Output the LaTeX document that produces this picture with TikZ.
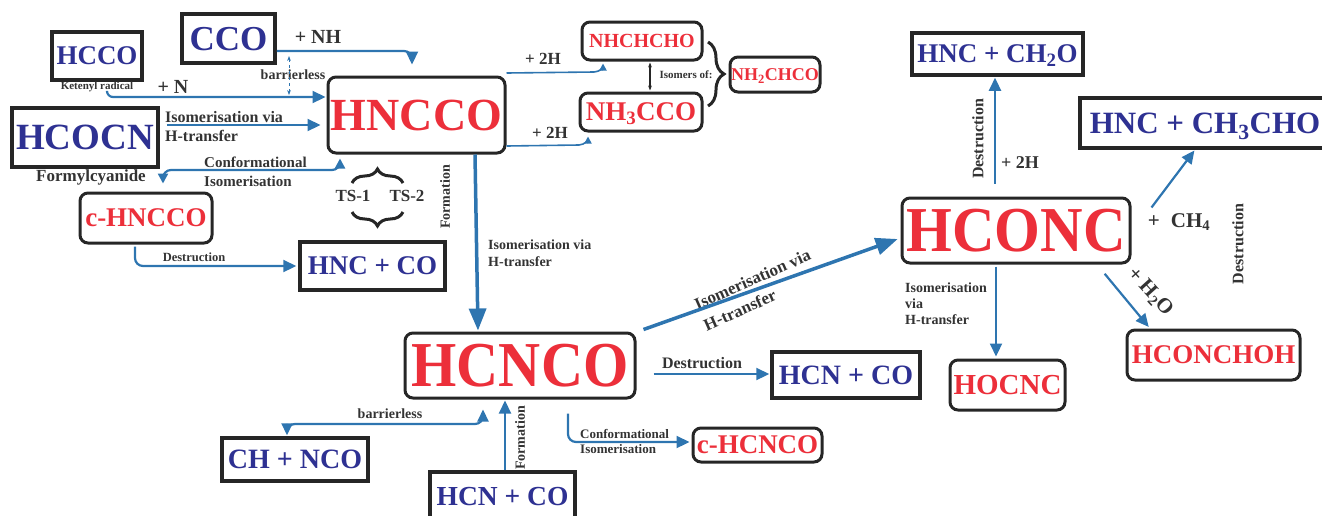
\documentclass[tikz,border=0pt]{standalone}
\usepackage{fontspec}
\setmainfont{Liberation Serif}
\usetikzlibrary{arrows.meta,decorations.pathreplacing}
\definecolor{molblue}{HTML}{2E3192}
\definecolor{molred}{HTML}{EC2F3A}
\definecolor{arrblue}{HTML}{2E75B0}
\definecolor{boxgray}{HTML}{262626}
\definecolor{lblgray}{HTML}{333333}
\newcommand\ctext[1]{\smash{\raisebox{-0.33em}{#1}}}
\begin{document}
\begin{tikzpicture}[x=1pt,y=-1pt,
  sz/.style={font=\bfseries\fontsize{#1}{#1}\selectfont},
  ml/.style 2 args={font=\bfseries\fontsize{#1}{#2}\selectfont},
  sbox/.style={draw=boxgray, line width=3.5pt, inner sep=0pt, text=molblue},
  rbox/.style={draw=boxgray, line width=3pt, rounded corners=8pt, inner sep=0pt, text=molred},
  lbl/.style={text=lblgray, inner sep=0pt},
  arr/.style={draw=arrblue, line width=2.2pt, -{Triangle[length=13pt,width=12pt]}},
  arrs/.style={draw=arrblue, line width=1.6pt, -{Triangle[length=7pt,width=7pt]}},
  bigarr/.style={draw=arrblue, line width=3.5pt, -{Triangle[length=22pt,width=17pt]}},
  brc/.style={draw=boxgray, line width=3pt, decorate},
]
\useasboundingbox (0,0) rectangle (1322,515);
\clip (0,0) rectangle (1322,515);

% ---- boxes ----
\node[sbox, minimum width=90, minimum height=48, sz=27] (HCCO) at (97,56) {\ctext{HCCO}};
\node[sbox, minimum width=93, minimum height=49, sz=35] (CCO) at (228.5,38.5) {\ctext{CCO}};
\node[rbox, minimum width=177, minimum height=76, sz=46] (HNCCO) at (416.5,115) {\ctext{HNCCO}};
\node[sbox, minimum width=146, minimum height=59, sz=37] (HCOCN) at (85,137.5) {\ctext{HCOCN}};
\node[rbox, minimum width=132, minimum height=50, sz=27] (cHNCCO) at (146,218) {\ctext{c-HNCCO}};
\node[sbox, minimum width=145, minimum height=48, sz=27] (HNCCOa) at (372.5,266) {\ctext{HNC + CO}};
\node[rbox, minimum width=120, minimum height=38, sz=20] (NHCHCHO) at (642,41) {\ctext{NHCHCHO}};
\node[rbox, minimum width=122, minimum height=38, sz=27] (NH3CCO) at (641,112) {\ctext{NH\textsubscript{3}CCO}};
\node[rbox, minimum width=90, minimum height=35, sz=18] (NH2CHCO) at (775,74.5) {\ctext{NH\textsubscript{2}CHCO}};
\node[rbox, minimum width=230, minimum height=65, sz=64] (HCNCO) at (520,365.5) {\ctext{\scalebox{0.91}[1]{HCNCO}}};
\node[rbox, minimum width=228, minimum height=65, sz=64] (HCONC) at (1016,230.5) {\ctext{\scalebox{0.92}[1]{HCONC}}};
\node[sbox, minimum width=148, minimum height=46, sz=28] (HCNCOr) at (846,375) {\ctext{HCN + CO}};
\node[rbox, minimum width=129, minimum height=34, sz=27] (cHCNCO) at (757.5,445) {\ctext{c-HCNCO}};
\node[sbox, minimum width=146, minimum height=43, sz=28] (CHNCO) at (295,459.5) {\ctext{CH + NCO}};
\node[sbox, minimum width=145, minimum height=48, sz=27.5] (HCNCOb) at (502.5,496) {\ctext{HCN + CO}};
\node[sbox, minimum width=171, minimum height=42, sz=27] (HNCCH2O) at (997.5,54) {\ctext{HNC + CH\textsubscript{2}O}};
\node[sbox, minimum width=250, minimum height=50, sz=31] (HNCCH3CHO) at (1205,123) {\ctext{HNC + CH\textsubscript{3}CHO}};
\node[rbox, minimum width=173, minimum height=50, sz=27] (HCONCHOH) at (1213.5,355) {\ctext{HCONCHOH}};
\node[rbox, minimum width=115, minimum height=50, sz=29] (HOCNC) at (1007.5,385) {\ctext{HOCNC}};

% ---- labels ----
\node[lbl, sz=11] (ket) at (97,87) {Ketenyl radical};
\node[lbl, sz=20] (plusN) at (173,87) {+ N};
\node[lbl, sz=14] (barr1) at (293,75) {barrierless};
\node[lbl, sz=20] (plusNH) at (318,37) {+ NH};
\node[lbl, ml={16}{19}, align=left, anchor=west] (iso1) at (165,127) {Isomerisation via\\H-transfer};
\node[lbl, sz=17] (formyl) at (91,177) {Formylcyanide};
\node[lbl, ml={15}{19}, align=left, anchor=west] (conf1) at (204,172) {Conformational\\Isomerisation};
\node[lbl, sz=17] (ts1) at (353,196) {TS-1};
\node[lbl, sz=17] (ts2) at (407,196) {TS-2};
\node[lbl, sz=14, rotate=90] (form1) at (445,197) {Formation};
\node[lbl, ml={14}{17}, align=left, anchor=west] (iso2) at (488,253) {Isomerisation via\\H-transfer};
\node[lbl, sz=12.5] (dest1) at (194,257) {Destruction};
\node[lbl, sz=17] (p2ha) at (543,59) {+ 2H};
\node[lbl, sz=17] (p2hb) at (550,133) {+ 2H};
\node[lbl, sz=11] (isomers) at (686,75) {Isomers of:};
\node[lbl, sz=16] (dest2) at (702,363) {Destruction};
\node[lbl, ml={13}{15}, align=left, anchor=west] (conf2) at (580,441) {Conformational\\Isomerisation};
\node[lbl, sz=14] (barr2) at (390,414) {barrierless};
\node[lbl, sz=14, rotate=90] (form2) at (520,438) {Formation};
\node[lbl, ml={17}{23}, align=left, rotate=24] (iso3) at (757,290) {Isomerisation via\\H-transfer};
\node[lbl, sz=16, rotate=90] (dest3) at (978,139) {Destruction};
\node[lbl, sz=18] (p2hc) at (1020,163) {+ 2H};
\node[lbl, sz=21] (pch4) at (1179,222) {+ \;CH\textsubscript{4}};
\node[lbl, sz=16, rotate=90] (dest4) at (1238,244) {Destruction};
\node[lbl, sz=21, rotate=-48] (ph2o) at (1150,292) {+ H\textsubscript{2}O};
\node[lbl, ml={14}{16}, align=left, anchor=west] (iso4) at (905,304) {Isomerisation\\via\\H-transfer};

% ---- connectors ----
\draw[arr, rounded corners=8pt, shorten >=11pt] (CCO.east |- 0,51) -- (412,51) -- (HNCCO.north -| 412,0);
\draw[arr, rounded corners=6pt, shorten >=1pt] (ket.south -| 107,0) -- (107,97) -- (HNCCO.west |- 0,97);
\draw[arr, shorten <=7pt, shorten >=6pt] (HCOCN.east |- 0,125) -- (HNCCO.west |- 0,125);
\draw[arr, {Triangle[length=10pt,width=10pt]}-{Triangle[length=10pt,width=10pt]}, rounded corners=8pt, shorten <=8pt, shorten >=4pt]
  (cHNCCO.north -| 163,0) -- (163,170) -- (340,170) -- (HNCCO.south -| 340,0);
\draw[arr, rounded corners=8pt, shorten <=2pt, shorten >=2pt] (cHNCCO.south -| 135,0) -- (135,266) -- (HNCCOa.west |- 0,266);
\draw[bigarr, shorten >=1pt] (HNCCO.south -| 475,0) -- (HCNCO.north -| 478,0);
\draw[arrs, shorten >=2pt] (HNCCO.east |- 0,73) -- (594,72) to[out=0,in=-90] (NHCHCHO.south -| 603,0);
\draw[arrs, shorten >=4pt] (HNCCO.east |- 0,146) -- (579,145) to[out=0,in=-90] (NH3CCO.south -| 588,0);
\draw[boxgray, line width=1.2pt, {Stealth[length=5pt]}-{Stealth[length=5pt]}, shorten <=1pt, shorten >=1pt]
  (NHCHCHO.south -| 650,0) -- (NH3CCO.north -| 650,0);
\draw[brc, decoration={brace, amplitude=16pt}] (708,42) -- (708,106);
\draw[brc, decoration={brace, amplitude=14pt}] (352,183) -- (403,183);
\draw[brc, decoration={brace, amplitude=14pt}] (403,212) -- (352,212);
\coordinate (b1) at (289,56);
\coordinate (b2) at (289,95);
\draw[arrblue, line width=0.9pt, dashed, {Stealth[length=5pt]}-{Stealth[length=5pt]}] (b1) -- (b2);

\draw[bigarr, shorten >=3pt] ([xshift=7pt,yshift=2pt]HCNCO.north east) -- (HCONC.west |- 0,238);
\draw[arr, shorten <=17pt, shorten >=1pt] (HCNCO.east |- 0,374) -- (HCNCOr.west |- 0,374);
\draw[arr, rounded corners=8pt, shorten <=14pt, shorten >=2pt] (HCNCO.south -| 568,0) -- (568,442) -- (cHCNCO.west |- 0,442);
\draw[arr, {Triangle[length=12pt,width=11pt]}-{Triangle[length=12pt,width=11pt]}, rounded corners=8pt, shorten <=1pt, shorten >=10pt]
  (CHNCO.north -| 287,0) -- (287,424) -- (483,424) -- (HCNCO.south -| 483,0);
\draw[arr, shorten >=1pt] (HCNCOb.north -| 505,0) -- (HCNCO.south -| 505,0);

\draw[arr, shorten <=13pt, shorten >=1pt] (HCONC.north -| 995,0) -- (HNCCH2O.south -| 995,0);
\draw[arr, shorten >=1pt] ([xshift=20pt,yshift=-11pt]HCONC.north east) -- (HNCCH3CHO.south -| 1195,0);
\draw[arr, shorten <=12pt, shorten >=2pt] (HCONC.south -| 1097,0) -- (HCONCHOH.north -| 1150,0);
\draw[arr, shorten <=2pt, shorten >=2pt] (HCONC.south -| 996,0) -- (HOCNC.north -| 996,0);
\end{tikzpicture}
\end{document}
